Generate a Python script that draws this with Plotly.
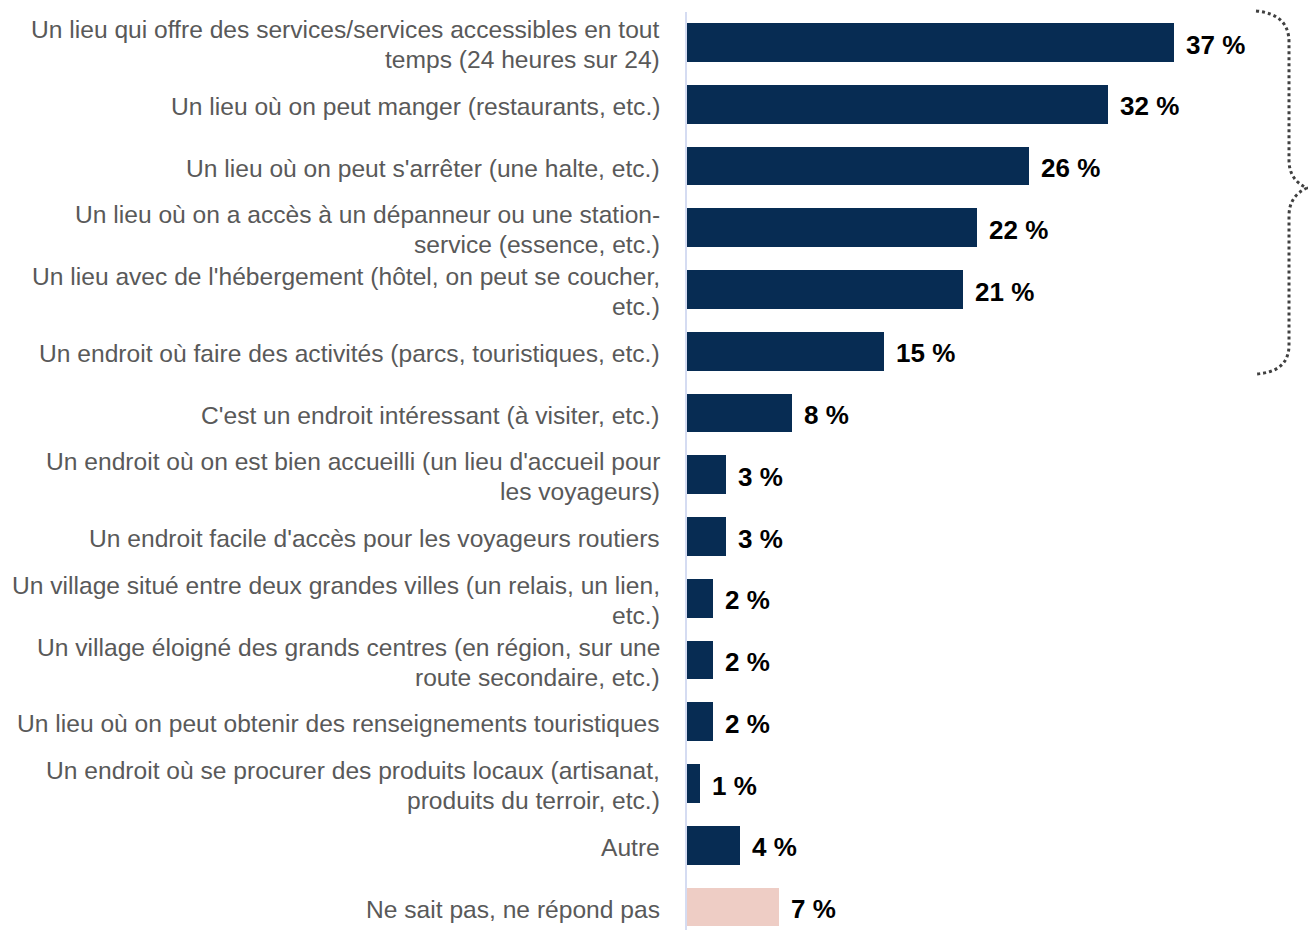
import plotly.graph_objects as go

# Survey answers, top to bottom
categories = [
    "Un lieu qui offre des services/services accessibles en tout<br>temps (24 heures sur 24)",
    "Un lieu où on peut manger (restaurants, etc.)",
    "Un lieu où on peut s'arrêter (une halte, etc.)",
    "Un lieu où on a accès à un dépanneur ou une station-<br>service (essence, etc.)",
    "Un lieu avec de l'hébergement (hôtel, on peut se coucher,<br>etc.)",
    "Un endroit où faire des activités (parcs, touristiques, etc.)",
    "C'est un endroit intéressant (à visiter, etc.)",
    "Un endroit où on est bien accueilli (un lieu d'accueil pour<br>les voyageurs)",
    "Un endroit facile d'accès pour les voyageurs routiers",
    "Un village situé entre deux grandes villes (un relais, un lien,<br>etc.)",
    "Un village éloigné des grands centres (en région, sur une<br>route secondaire, etc.)",
    "Un lieu où on peut obtenir des renseignements touristiques",
    "Un endroit où se procurer des produits locaux (artisanat,<br>produits du terroir, etc.)",
    "Autre",
    "Ne sait pas, ne répond pas",
]
values = [37, 32, 26, 22, 21, 15, 8, 3, 3, 2, 2, 2, 1, 4, 7]

NAVY = "#072C53"
PINK = "#EECDC5"
colors = [PINK if c.startswith("Ne sait pas") else NAVY for c in categories]

W, H = 1308, 930
LEFT = 687
positions = list(range(len(categories)))

fig = go.Figure(
    go.Bar(
        x=values,
        y=positions,
        orientation="h",
        marker=dict(color=colors, line=dict(width=0)),
        width=0.63,
        hoverinfo="skip",
    )
)

annotations = []
# category labels, one annotation per text line (30 px line pitch)
for pos, cat in zip(positions, categories):
    lines = cat.split("<br>")
    n = len(lines)
    for k, line in enumerate(lines):
        annotations.append(dict(
            x=0, xref="paper", y=pos, yref="y",
            text=line, showarrow=False,
            xanchor="right", yanchor="middle",
            xshift=-25, yshift=(n - 1) * 15 - k * 30 - 2,
            font=dict(family="Liberation Sans, Arial, sans-serif", size=24.6, color="#595959"),
        ))

# value labels
for pos, v in zip(positions, values):
    annotations.append(dict(
        x=v, xref="x", y=pos, yref="y",
        text=f"<b>{v} %</b>", showarrow=False,
        xanchor="left", yanchor="middle", xshift=10, yshift=-2,
        font=dict(family="Liberation Sans, Arial, sans-serif", size=26, color="#000000"),
    ))

def px(x):
    return (x - LEFT) / (W - LEFT)

def py(y):
    return 1 - y / H

# dotted curly brace grouping the first six answers
brace = (
    f"M {px(1256)},{py(11)} "
    f"Q {px(1289)},{py(14)} {px(1289)},{py(42)} "
    f"L {px(1289)},{py(160)} "
    f"Q {px(1289)},{py(180)} {px(1307)},{py(188)} "
    f"Q {px(1289)},{py(196)} {px(1289)},{py(216)} "
    f"L {px(1289)},{py(345)} "
    f"Q {px(1289)},{py(372)} {px(1256)},{py(374)}"
)

shapes = [
    dict(type="line", xref="paper", yref="paper",
         x0=px(686), x1=px(686), y0=py(12), y1=0,
         line=dict(color="#D5DCF2", width=2), layer="below"),
    dict(type="path", xref="paper", yref="paper", path=brace,
         line=dict(color="#404040", width=3, dash="dot")),
]

px_per_unit = 61.75
top_center = 42.5
y_top = -top_center / px_per_unit
y_bottom = (H - top_center) / px_per_unit

fig.update_layout(
    width=W, height=H,
    margin=dict(l=LEFT, r=0, t=0, b=0),
    paper_bgcolor="white", plot_bgcolor="white",
    showlegend=False,
    xaxis=dict(range=[0, (W - LEFT) / 13.16], visible=False, fixedrange=True),
    yaxis=dict(range=[y_bottom, y_top], visible=False, fixedrange=True),
    annotations=annotations,
    shapes=shapes,
    bargap=0,
)

fig.write_html("out.html", config={"displayModeBar": False})
